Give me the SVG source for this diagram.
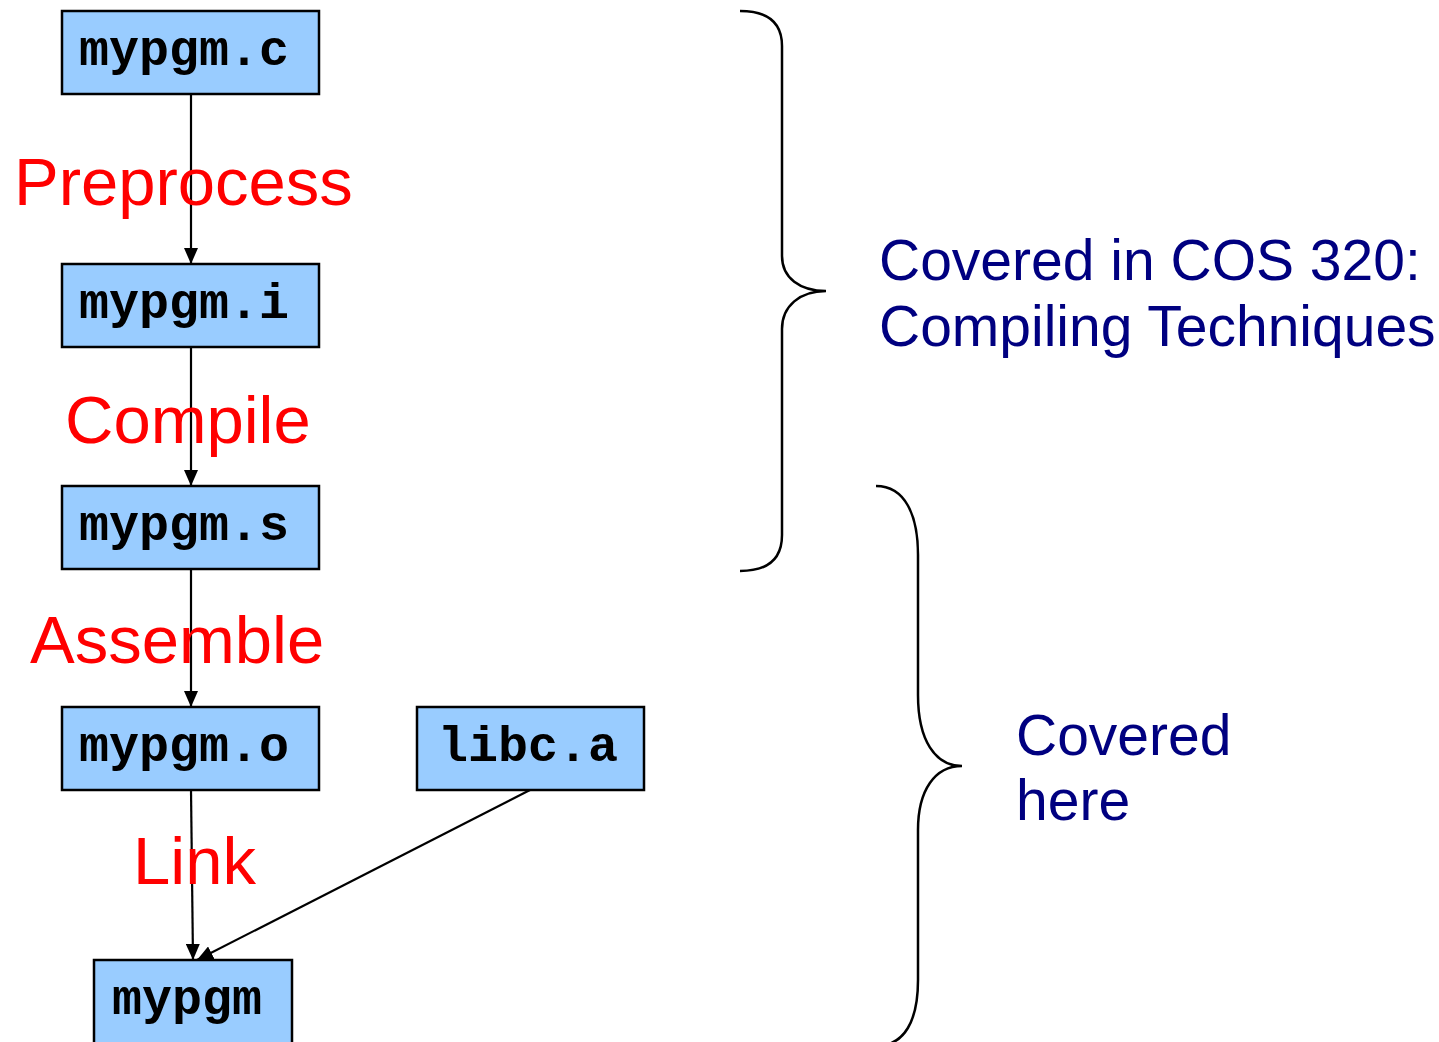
<svg xmlns="http://www.w3.org/2000/svg" width="1439" height="1042" viewBox="0 0 1439 1042">
<style>
.box{fill:#99CCFF;stroke:#000;stroke-width:2.5}
.code{font-family:"Liberation Mono","Courier New",monospace;font-weight:bold;font-size:50px;fill:#000}
.step{font-family:"Liberation Sans",Arial,sans-serif;font-size:67px;fill:#FF0000}
.note{font-family:"Liberation Sans",Arial,sans-serif;font-size:57px;fill:#000080}
.edge{stroke:#000;stroke-width:2.2;fill:none;marker-end:url(#ah)}
.brace{stroke:#000;stroke-width:2.5;fill:none}
</style>
<defs>
<marker id="ah" viewBox="0 0 16 14" refX="16" refY="7" markerWidth="16" markerHeight="14" markerUnits="userSpaceOnUse" orient="auto">
<path d="M0,0 L16,7 L0,14 Z" fill="#000"/>
</marker>
</defs>
<rect width="1439" height="1042" fill="#fff"/>
<g id="connectors">
<line class="edge" x1="191" y1="94" x2="191" y2="264"/>
<line class="edge" x1="191" y1="347" x2="191" y2="486"/>
<line class="edge" x1="191" y1="569" x2="191" y2="707"/>
<line class="edge" x1="191" y1="790" x2="193" y2="960"/>
<line class="edge" x1="530" y1="790" x2="197" y2="960"/>
</g>
<g id="n-mypgm-c"><rect class="box" x="62" y="11" width="257" height="83"/><text class="code" x="79" y="65">mypgm.c</text></g>
<g id="n-mypgm-i"><rect class="box" x="62" y="264" width="257" height="83"/><text class="code" x="79" y="318">mypgm.i</text></g>
<g id="n-mypgm-s"><rect class="box" x="62" y="486" width="257" height="83"/><text class="code" x="79" y="540">mypgm.s</text></g>
<g id="n-mypgm-o"><rect class="box" x="62" y="707" width="257" height="83"/><text class="code" x="79" y="761">mypgm.o</text></g>
<g id="n-libc-a"><rect class="box" x="417" y="707" width="227" height="83"/><text class="code" x="438" y="761">libc.a</text></g>
<g id="n-mypgm"><rect class="box" x="94" y="960" width="198" height="90"/><text class="code" x="112" y="1014">mypgm</text></g>
<g id="labels">
<text class="step" x="14" y="205">Preprocess</text>
<text class="step" x="65" y="443">Compile</text>
<text class="step" x="30" y="663">Assemble</text>
<text class="step" x="133" y="884">Link</text>
</g>
<g id="brace-cos320">
<path class="brace" d="M740,11 C770,11 782,25 782,46 L782,256 C782,278 800,291 826,291 C800,291 782,306 782,329 L782,535 C782,557 770,571 740,571"/>
<text class="note" x="879" y="280">Covered in COS 320:</text>
<text class="note" x="879" y="346">Compiling Techniques</text>
</g>
<g id="brace-here">
<path class="brace" d="M876,486 C905,486 918,515 918,555 L918,695 C918,740 935,766 962,766 C935,766 918,790 918,830 L918,980 C918,1020 905,1046 876,1046"/>
<text class="note" x="1016" y="755">Covered</text>
<text class="note" x="1016" y="820">here</text>
</g>
</svg>
